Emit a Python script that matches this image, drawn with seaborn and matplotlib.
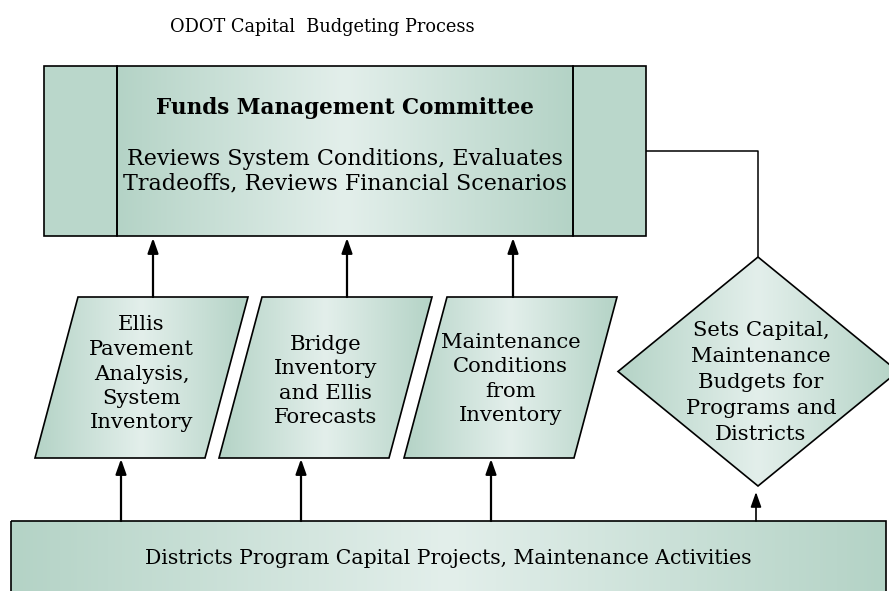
import numpy as np
import matplotlib
matplotlib.use("Agg")
import matplotlib.pyplot as plt
from matplotlib.patches import Polygon, Rectangle
import seaborn as sns

# text of the flowchart
title = "ODOT Capital  Budgeting Process"
committee_head = "Funds Management Committee"
committee_body = ["Reviews System Conditions, Evaluates",
                  "Tradeoffs, Reviews Financial Scenarios"]
input_labels = [
    ["Ellis", "Pavement", "Analysis,", "System", "Inventory"],
    ["Bridge", "Inventory", "and Ellis", "Forecasts"],
    ["Maintenance", "Conditions", "from", "Inventory"],
]
decision_label = ["Sets Capital,", "Maintenance", "Budgets for", "Programs and", "Districts"]
districts_label = "Districts Program Capital Projects, Maintenance Activities"

# layout (pixel coordinates, y grows downwards)
W, H = 889, 591
top_box = (44, 66, 646, 236)          # x0, y0, x1, y1
top_inner = (117, 573)
para_top_left = [78, 262, 447]
para_width, para_skew = 170, 43
para_y = (297, 458)
diamond_c, diamond_hw = (758, 371.5), 140
diamond_y = (257, 486)
bottom_box = (11, 521, 886, 600)
up_arrow_x = [153, 347, 513]
low_arrow_x = [121, 301, 491]

sns.set_style("white")
plt.rcParams["font.family"] = ["DejaVu Serif"]
plt.rcParams["text.color"] = "black"

edge = "#b4d3c6"
light = "#e3efeb"
grad_cmap = sns.blend_palette([edge, light, edge], as_cmap=True)
side_color = "#bad7cb"

fig = plt.figure(figsize=(W / 100, H / 100), dpi=100)
ax = fig.add_axes([0, 0, 1, 1])
ax.axis("off")


def shaded(patch, x0, x1, cmap=grad_cmap):
    patch.set_facecolor("none")
    patch.set_edgecolor("black")
    patch.set_linewidth(1.2)
    patch.set_zorder(3)
    ax.add_patch(patch)
    grad = np.linspace(0, 1, 256).reshape(1, -1)
    im = ax.imshow(grad, cmap=cmap, extent=(x0, x1, H + 20, -20),
                   aspect="auto", zorder=1, interpolation="bilinear")
    im.set_clip_path(patch)


def arrow(x, y_from, y_to, lw=1.6):
    ax.annotate("", xy=(x, y_to), xytext=(x, y_from),
                arrowprops=dict(arrowstyle="-|>,head_length=0.9,head_width=0.32",
                                lw=lw, color="black", shrinkA=0, shrinkB=0),
                zorder=4)


def lines(x, yc, rows, size=15.2, spacing=24.5, **kw):
    n = len(rows)
    for i, r in enumerate(rows):
        y = yc + (i - (n - 1) / 2) * spacing
        ax.text(x, y, r, ha="center", va="center", fontsize=size, zorder=5, **kw)


# title
ax.text(322, 27, title, ha="center", va="center", fontsize=12.8)

# committee box
x0, y0, x1, y1 = top_box
ax.add_patch(Rectangle((x0, y0), top_inner[0] - x0, y1 - y0,
                       facecolor=side_color, edgecolor="black", lw=1.2, zorder=3))
ax.add_patch(Rectangle((top_inner[1], y0), x1 - top_inner[1], y1 - y0,
                       facecolor=side_color, edgecolor="black", lw=1.2, zorder=3))
shaded(Rectangle((top_inner[0], y0), top_inner[1] - top_inner[0], y1 - y0),
       top_inner[0], top_inner[1])
ax.text(345, 108, committee_head, ha="center", va="center",
        fontsize=15.5, fontweight="bold", zorder=5)
lines(345, 171, committee_body, size=16, spacing=25)

# input parallelograms
text_y = [374, 381, 379]
for xl, rows, ty in zip(para_top_left, input_labels, text_y):
    ya, yb = para_y
    pts = [(xl, ya), (xl + para_width, ya),
           (xl + para_width - para_skew, yb), (xl - para_skew, yb)]
    shaded(Polygon(pts, closed=True), xl - para_skew, xl + para_width)
    cx = xl + (para_width - para_skew) / 2
    lines(cx, ty, rows)

# decision diamond
cx, cy = diamond_c
pts = [(cx, diamond_y[0]), (cx + diamond_hw, cy), (cx, diamond_y[1]), (cx - diamond_hw, cy)]
shaded(Polygon(pts, closed=True), cx - diamond_hw, cx + diamond_hw)
lines(cx + 3, 383, decision_label, spacing=26)

# districts box
x0, y0, x1, y1 = bottom_box
shaded(Rectangle((x0, y0), x1 - x0, y1 - y0), x0, x1)
ax.text(448, 558, districts_label, ha="center", va="center", fontsize=14.7, zorder=5)

# connector from committee to diamond
ax.plot([top_box[2], cx, cx], [151, 151, diamond_y[0]], color="black", lw=1.1, zorder=2)

# arrows
for x in up_arrow_x:
    arrow(x, para_y[0], top_box[3] + 2)
for x in low_arrow_x:
    arrow(x, bottom_box[1], para_y[1] + 1)
arrow(756, bottom_box[1], diamond_y[1] + 6, lw=1.2)

ax.set_xlim(0, W)
ax.set_ylim(H, 0)
fig.savefig("out.png", dpi=100, facecolor="white")
